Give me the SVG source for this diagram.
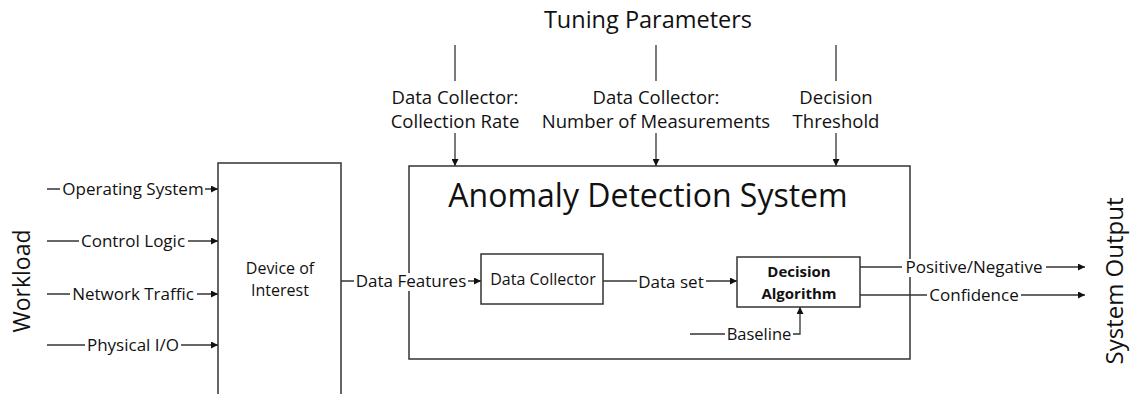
<svg xmlns="http://www.w3.org/2000/svg" width="1130" height="394" viewBox="0 0 1130 394">
<defs>
<marker id="ah" viewBox="0 0 10 10" refX="10" refY="5" markerWidth="7" markerHeight="7" markerUnits="userSpaceOnUse" orient="auto"><path d="M0,0 L10,5 L0,10 z" fill="#111"/></marker>
<style>
.ln{stroke:#333;stroke-width:1.3;fill:none}
.bx{stroke:#333;stroke-width:1.5;fill:#fff}
.t{font-family:"Open Sans","Liberation Sans",sans-serif;fill:#111;font-size:17px;text-anchor:middle}
.w{fill:#fff}
.tp{font-size:18.5px}
</style>
</defs>
<rect width="1130" height="394" fill="#fff"/>
<g id="connectors">
<line class="ln" x1="47" y1="189" x2="218" y2="189" marker-end="url(#ah)"/>
<line class="ln" x1="47" y1="241" x2="218" y2="241" marker-end="url(#ah)"/>
<line class="ln" x1="47" y1="294" x2="218" y2="294" marker-end="url(#ah)"/>
<line class="ln" x1="47" y1="345" x2="218" y2="345" marker-end="url(#ah)"/>
<line class="ln" x1="341" y1="281" x2="481" y2="281" marker-end="url(#ah)"/>
<line class="ln" x1="603" y1="281" x2="737" y2="281" marker-end="url(#ah)"/>
<polyline class="ln" points="690,334 800,334 800,307" marker-end="url(#ah)"/>
<line class="ln" x1="860" y1="267" x2="1085" y2="267" marker-end="url(#ah)"/>
<line class="ln" x1="860" y1="295" x2="1085" y2="295" marker-end="url(#ah)"/>
<line class="ln" x1="455" y1="45" x2="455" y2="81"/>
<line class="ln" x1="455" y1="133" x2="455" y2="166" marker-end="url(#ah)"/>
<line class="ln" x1="656" y1="45" x2="656" y2="81"/>
<line class="ln" x1="656" y1="133" x2="656" y2="166" marker-end="url(#ah)"/>
<line class="ln" x1="836" y1="45" x2="836" y2="81"/>
<line class="ln" x1="836" y1="133" x2="836" y2="166" marker-end="url(#ah)"/>
</g>
<g id="device">
<path class="bx" d="M218,394 L218,163 L341,163 L341,394"/>
<text class="t" x="280" y="274" style="font-size:16px">Device of</text>
<text class="t" x="280" y="296" style="font-size:16px">Interest</text>
</g>
<g id="ads">
<rect class="bx" x="409" y="166" width="501" height="193" style="fill:none"/>
<text class="t" x="648" y="207" style="font-size:32px">Anomaly Detection System</text>
</g>
<g id="collector">
<rect class="bx" x="481" y="254" width="122" height="50"/>
<text class="t" x="543" y="285" style="font-size:16px">Data Collector</text>
</g>
<g id="decision">
<rect class="bx" x="737" y="257" width="123" height="50"/>
<text class="t" x="799" y="277" style="font-weight:bold;font-size:15px">Decision</text>
<text class="t" x="799" y="299" style="font-weight:bold;font-size:15px">Algorithm</text>
</g>
<g id="labels">
<rect class="w" x="60" y="181" width="145" height="18"/>
<text class="t" x="133" y="195">Operating System</text>
<rect class="w" x="79" y="233" width="109" height="18"/>
<text class="t" x="133" y="247">Control Logic</text>
<rect class="w" x="70" y="286" width="127" height="18"/>
<text class="t" x="133" y="300">Network Traffic</text>
<rect class="w" x="85" y="337" width="96" height="18"/>
<text class="t" x="133" y="351">Physical I/O</text>
<rect class="w" x="354" y="273" width="114" height="18"/>
<text class="t" x="411" y="287">Data Features</text>
<rect class="w" x="637" y="274" width="69" height="18"/>
<text class="t" x="671" y="288">Data set</text>
<rect class="w" x="725" y="326" width="68" height="18"/>
<text class="t" x="759" y="340" style="font-size:16.5px">Baseline</text>
<rect class="w" x="902" y="259" width="144" height="18"/>
<text class="t" x="974" y="273">Positive/Negative</text>
<rect class="w" x="927" y="287" width="94" height="18"/>
<text class="t" x="974" y="301">Confidence</text>
<text class="t tp" x="455" y="104">Data Collector:</text>
<text class="t tp" x="455" y="128">Collection Rate</text>
<text class="t tp" x="656" y="104">Data Collector:</text>
<text class="t tp" x="656" y="128">Number of Measurements</text>
<text class="t tp" x="836" y="104">Decision</text>
<text class="t tp" x="836" y="128">Threshold</text>
<text class="t" x="648" y="28" style="font-size:23.5px">Tuning Parameters</text>
<text class="t" transform="translate(30,281) rotate(-90)" style="font-size:23px">Workload</text>
<text class="t" transform="translate(1123,281) rotate(-90)" style="font-size:24px">System Output</text>
</g>
</svg>
